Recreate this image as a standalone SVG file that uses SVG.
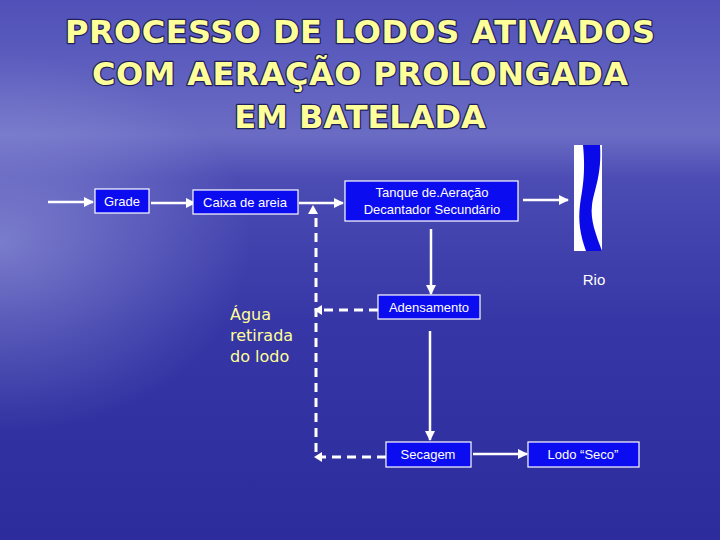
<svg xmlns="http://www.w3.org/2000/svg" width="720" height="540" viewBox="0 0 720 540">
<defs>
<linearGradient id="bg" x1="0" y1="0" x2="0" y2="1">
<stop offset="0" stop-color="#5050b8"/><stop offset="0.25" stop-color="#6a6cc4"/><stop offset="0.33" stop-color="#4c4cb4"/><stop offset="0.6" stop-color="#3636a6"/><stop offset="1" stop-color="#2c2c9c"/>
</linearGradient>
<radialGradient id="glow" cx="0" cy="0.45" r="0.35">
<stop offset="0" stop-color="#b0b4e8" stop-opacity="0.5"/><stop offset="1" stop-color="#b0b4e8" stop-opacity="0"/>
</radialGradient>
<marker id="ah" viewBox="0 0 10 10" refX="9" refY="5" markerWidth="4" markerHeight="4" orient="auto"><path d="M0,0L10,5L0,10z" fill="#fff"/></marker>
<style>
.box{fill:#0c0cf0;stroke:#fff;stroke-width:1.2}
.t{font-family:"Liberation Sans",Arial,sans-serif;font-size:13px;fill:#fff;text-anchor:middle}
.ln{stroke:#fff;stroke-width:2.5;fill:none;marker-end:url(#ah)}
.ds{stroke:#fff;stroke-width:3;fill:none;stroke-dasharray:9,6}
.ti{font-family:"DejaVu Sans",Verdana,sans-serif;font-weight:bold;font-size:32px;fill:#ffff99;text-anchor:middle;stroke:#20205a;stroke-width:2.5;paint-order:stroke;stroke-linejoin:round}
.y{font-family:"DejaVu Sans",Verdana,sans-serif;font-size:16px;fill:#ffff99}
</style>
</defs>
<rect width="720" height="540" fill="url(#bg)"/>
<rect width="720" height="540" fill="url(#glow)"/>
<g id="title">
<text class="ti" x="360" y="43" textLength="590">PROCESSO DE LODOS ATIVADOS</text>
<text class="ti" x="360" y="85" textLength="536">COM AERAÇÃO PROLONGADA</text>
<text class="ti" x="360" y="128">EM BATELADA</text>
</g>
<g id="connectors">
<line class="ln" x1="48" y1="202" x2="93" y2="202"/>
<line class="ln" x1="151" y1="203" x2="195" y2="203"/>
<line class="ln" x1="299" y1="203" x2="343" y2="203"/>
<line class="ln" x1="523" y1="200" x2="568" y2="200"/>
<line class="ln" x1="431" y1="229" x2="431" y2="294"/>
<line class="ln" x1="430" y1="331" x2="430" y2="440"/>
<line class="ln" x1="473" y1="454" x2="527" y2="454"/>
<path class="ds" d="M378,310H318"/>
<path class="ds" d="M386,457H316V215"/>
<path d="M313,205l-5,9h10z" fill="#fff"/>
<path d="M314,310l8,-5v10z" fill="#fff"/>
<path d="M314,457l8,-5v10z" fill="#fff"/>
</g>
<g id="grade"><rect class="box" x="95" y="189" width="54" height="24"/><text class="t" x="122" y="206">Grade</text></g>
<g id="caixa"><rect class="box" x="193" y="190" width="105" height="24"/><text class="t" x="245" y="207">Caixa de areia</text></g>
<g id="tanque"><rect class="box" x="345" y="181" width="173" height="40"/><text class="t" x="432" y="197">Tanque de.Aeração</text><text class="t" x="432" y="214">Decantador Secundário</text></g>
<g id="rio">
<rect x="574" y="145" width="28" height="106" fill="#fff"/>
<path d="M583,145H600C602,175 594,190 592,205C590,220 596,235 602,251H586C580,235 578,220 580,205C582,190 586,175 583,145Z" fill="#0a0ae8"/>
<text class="t" x="594" y="285" style="font-size:15px">Rio</text>
</g>
<g id="adensamento"><rect class="box" x="378" y="295" width="102" height="24"/><text class="t" x="429" y="312">Adensamento</text></g>
<g id="secagem"><rect class="box" x="386" y="442" width="85" height="25"/><text class="t" x="428" y="459">Secagem</text></g>
<g id="lodo"><rect class="box" x="528" y="442" width="111" height="25"/><text class="t" x="583" y="459">Lodo “Seco”</text></g>
<g id="agua"><text class="y" x="230" y="320">Água</text><text class="y" x="230" y="341">retirada</text><text class="y" x="230" y="362">do lodo</text></g>
</svg>
